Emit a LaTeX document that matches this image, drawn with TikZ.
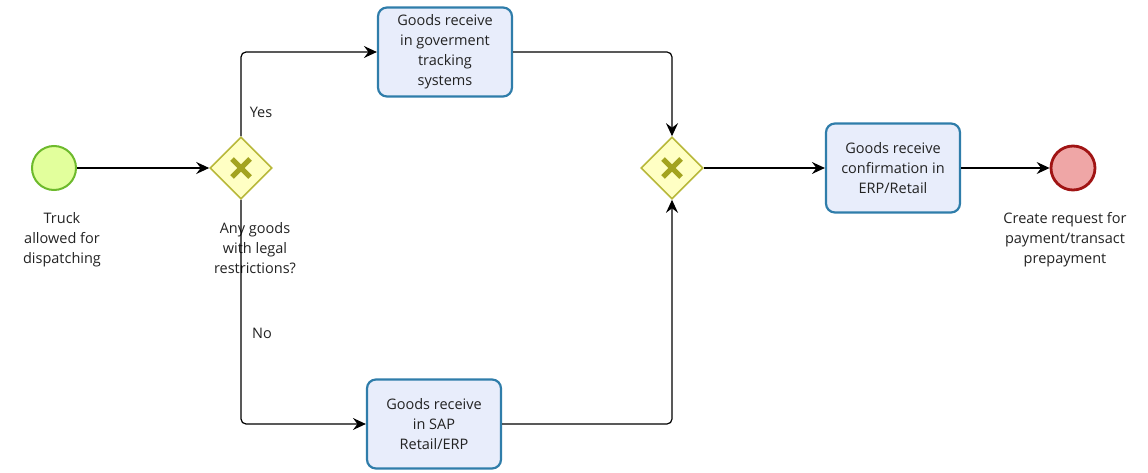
\documentclass[tikz,border=0pt]{standalone}
\usepackage{fontspec}
\setmainfont{Open Sans}
\usetikzlibrary{shapes.geometric,arrows.meta}
\definecolor{taskfill}{HTML}{E8EDFB}
\definecolor{taskline}{HTML}{2F7DAA}
\definecolor{gwfill}{HTML}{FFFFC4}
\definecolor{gwline}{HTML}{B8B83A}
\definecolor{gwmark}{HTML}{A3A320}
\definecolor{startfill}{HTML}{E2FF9C}
\definecolor{startline}{HTML}{6DBA2C}
\definecolor{endfill}{HTML}{EFA6A6}
\definecolor{endline}{HTML}{A01414}
\definecolor{txt}{HTML}{222222}
\tikzset{
  x=1pt, y=-1pt,
  every node/.style={font=\fontsize{14.5}{20}\selectfont, text=txt},
  task/.style={draw=taskline, fill=taskfill, line width=2.2pt, rounded corners=9pt,
    minimum width=134pt, minimum height=89pt, align=center, inner sep=2pt},
  gateway/.style={diamond, draw=gwline, fill=gwfill, line width=1.6pt,
    minimum width=62pt, minimum height=62pt, inner sep=0pt},
  startev/.style={circle, draw=startline, fill=startfill, line width=2pt, minimum size=44pt},
  endev/.style={circle, draw=endline, fill=endfill, line width=2.8pt, minimum size=44pt},
  lbl/.style={align=center},
  flow/.style={draw=black, line width=1.2pt, rounded corners=5pt,
    -{Stealth[length=13pt, width=12pt, inset=4.5pt]}},
}
\newcommand{\xmark}[1]{%
  \draw[gwmark, line width=5pt] ([shift={(-9,-9)}]#1.center) -- ([shift={(9,9)}]#1.center);
  \draw[gwmark, line width=5pt] ([shift={(-9,9)}]#1.center) -- ([shift={(9,-9)}]#1.center);}
\begin{document}
\begin{tikzpicture}
\useasboundingbox (0,0) rectangle (1148,473);

% events, gateways and tasks
\node[startev] (start) at (54,168) {};
\node[gateway] (split) at (241,168) {};
\node[task] (gov) at (445,52) {Goods receive\\in goverment\\tracking\\systems};
\node[task] (sap) at (434,424) {Goods receive\\in SAP\\Retail/ERP};
\node[gateway] (merge) at (672,168) {};
\node[task] (conf) at (893,168) {Goods receive\\confirmation in\\ERP/Retail};
\node[endev] (stop) at (1073,168) {};
\xmark{split}
\xmark{merge}

% labels
\node[lbl] (startlbl) at (62,240) {Truck\\allowed for\\dispatching};
\node[lbl] (splitlbl) at (255,248) {Any goods\\with legal\\restrictions?};
\node[lbl] (stoplbl) at (1065,240) {Create request for\\payment/transact\\prepayment};
\node (yes) at (261,112) {Yes};
\node (no) at (262,333) {No};

% sequence flows
\path[flow] (start) -- (split);
\path[flow] (split.north) |- (gov.west);
\path[flow] (split.south) |- (sap.west);
\path[flow] (gov.east) -| (merge.north);
\path[flow] (sap.east) -| (merge.south);
\path[flow] (merge) -- (conf);
\path[flow] (conf) -- (stop);
\end{tikzpicture}
\end{document}
